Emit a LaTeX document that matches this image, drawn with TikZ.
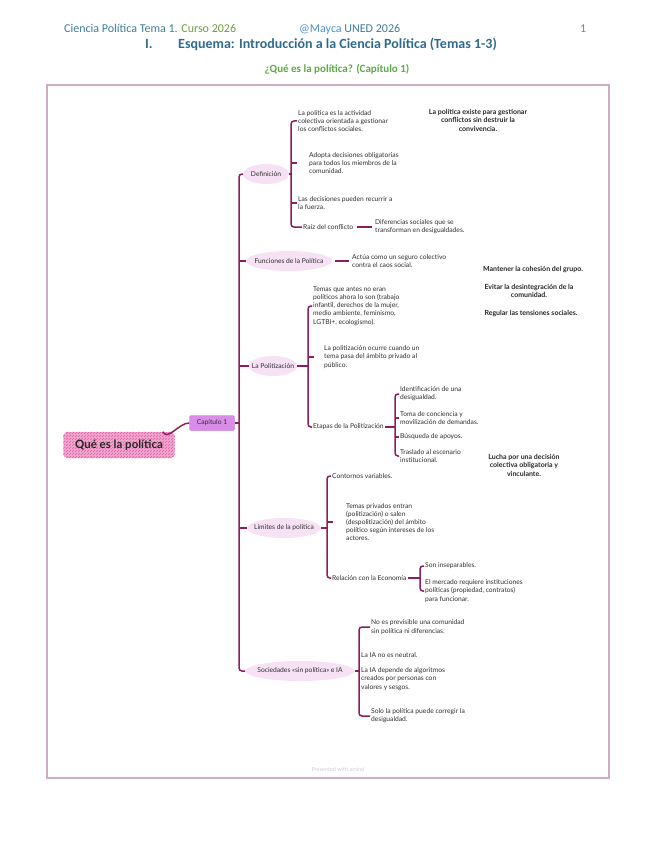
\documentclass[tikz,border=0pt]{standalone}
\usepackage{fontspec}
\setmainfont{Lato}
\newfontfamily\headfont{Carlito}
\usepackage{tikz}
\usetikzlibrary{shapes.geometric,patterns}

\definecolor{linkcol}{HTML}{8A1F5A}
\definecolor{branchfill}{HTML}{F7E1F5}
\definecolor{rootfill}{HTML}{F2A7CF}
\definecolor{rootline}{HTML}{DE5FA2}
\definecolor{capfill}{HTML}{DA8DE8}
\definecolor{capline}{HTML}{B866CC}
\definecolor{framecol}{HTML}{CBB0C4}
\definecolor{headblue}{HTML}{3F7C98}
\definecolor{headgreen}{HTML}{6E9E3E}
\definecolor{mayblue}{HTML}{4A90D0}
\definecolor{titleblue}{HTML}{2F6A8E}
\definecolor{subgreen}{HTML}{5BAA45}
\definecolor{mapgray}{HTML}{2E2E2E}

\newcommand{\mapfont}{\fontsize{6.7}{8.2}\selectfont}

\tikzset{
    txt/.style={anchor=west, align=left, inner sep=1pt, font=\mapfont, text=mapgray},
    note/.style={align=center, inner sep=1pt, font=\fontsize{7}{8.5}\selectfont\bfseries, text=black!85},
    topic/.style={ellipse, fill=branchfill, inner xsep=-4pt, inner ysep=2pt,
        minimum width=46pt, minimum height=20pt, font=\mapfont, text=mapgray},
    br/.style={draw=linkcol, line width=1.5pt, rounded corners=3pt},
    link/.style={br, shorten <=3pt, shorten >=2pt},
}

\begin{document}
\begin{tikzpicture}[x=1pt, y={(0pt,-1pt)}]
        \useasboundingbox (0,0) rectangle (655,848);

        % Header
        \node[anchor=base west, inner sep=0, font=\headfont\fontsize{12}{14}\selectfont] (hleft) at (64,33)
            {\textcolor{headblue}{Ciencia Política Tema 1.} \textcolor{headgreen}{Curso 2026}};
        \node[anchor=base west, inner sep=0, font=\headfont\fontsize{12}{14}\selectfont] (hmid) at (299,33)
            {\textcolor{mayblue}{@Mayca} \textcolor{headblue}{UNED 2026}};
        \node[anchor=base west, inner sep=0, font=\headfont\fontsize{12}{14}\selectfont, text=gray] (hpage) at (580,33) {1};
        \node[anchor=base west, inner sep=0, font=\headfont\fontsize{14}{16}\selectfont\bfseries, text=titleblue] (tnum) at (145,49) {I.};
        \node[anchor=base west, inner sep=0, font=\headfont\fontsize{14}{16}\selectfont\bfseries, text=titleblue] (title) at (178,49)
            {Esquema: Introducción a la Ciencia Política (Temas 1-3)};
        \node[inner sep=0, font=\headfont\fontsize{11}{13}\selectfont\bfseries, text=subgreen] (sub) at (337,69)
            {¿Qué es la política? (Capítulo 1)};

        % Frame
        \draw[framecol, line width=2.5pt] (47,85) rectangle (609,778);
        \node[font=\fontsize{5.5}{6}\selectfont, text=gray!40] (xm) at (338,769) {Presented with xmind};

        % Root and chapter
        \node[draw=rootline, dashed, preaction={fill=rootfill}, pattern=north east lines, pattern color=rootline,
            rounded corners=4pt, minimum width=111pt, minimum height=26pt,
            font=\fontsize{11.5}{13}\selectfont\bfseries, text=black!85] (root) at (119,445) {Qué es la política};
        \node[draw=capline, fill=capfill, rounded corners=2pt, minimum width=45pt, minimum height=15pt,
            inner sep=1pt, font=\mapfont, text=mapgray] (cap) at (212,423) {Capítulo 1};
        \draw[linkcol, line width=1.5pt] ([xshift=-12pt]root.north east) to[out=-60, in=180] (cap.west);

        % Main topics
        \node[topic] (def) at (266,174) {Definición};
        \node[topic] (fun) at (289,261) {Funciones de la Política};
        \node[topic] (pol) at (273,366) {La Politización};
        \node[topic] (lim) at (284,528) {Límites de la política};
        \node[topic] (soc) at (300,671) {Sociedades «sin política» e IA};

        \coordinate (trunk) at (239,423);
        \draw[br] (cap.east) -- (trunk);
        \draw[br] (def.west) -| (trunk) |- (soc.west);
        \draw[br] (trunk|-fun.west) -- (fun.west);
        \draw[br] (trunk|-pol.west) -- (pol.west);
        \draw[br] (trunk|-lim.west) -- (lim.west);

        % Definicion
        \node[txt] (d1) at (297,121) {La política es la actividad\\colectiva orientada a gestionar\\los conflictos sociales.};
        \node[txt] (d2) at (308,163) {Adopta decisiones obligatorias\\para todos los miembros de la\\comunidad.};
        \node[txt] (d3) at (297,203) {Las decisiones pueden recurrir a\\la fuerza.};
        \node[txt] (d4) at (302,227) {Raíz del conflicto};
        \node[txt] (d5) at (374,227) {Diferencias sociales que se\\transforman en desigualdades.};
        \coordinate (bdef) at (291,174);
        \draw[br] (def.east) -- (bdef);
        \draw[br] (d1.west) -| (bdef) |- (d4.west);
        \draw[br, shorten >=11pt] (bdef|-d2.west) -- (d2.west);
        \draw[br] (bdef|-d3.west) -- (d3.west);
        \draw[link] (d4.east) -- (d5.west);

        % Funciones
        \node[txt] (f1) at (351,261) {Actúa como un seguro colectivo\\contra el caos social.};
        \draw[link] (fun.east) -- (f1.west);

        % Politizacion
        \node[txt] (p1) at (312,306) {Temas que antes no eran\\políticos ahora lo son (trabajo\\infantil, derechos de la mujer,\\medio ambiente, feminismo,\\LGTBI+, ecologismo).};
        \node[txt] (p2) at (323,357) {La politización ocurre cuando un\\tema pasa del ámbito privado al\\público.};
        \node[txt] (p3) at (312,427) {Etapas de la Politización};
        \coordinate (bpol) at (308,366);
        \draw[br] (pol.east) -- (bpol);
        \draw[br] (p1.west) -| (bpol) |- (p3.west);
        \draw[br, shorten >=9pt] (bpol|-p2.west) -- (p2.west);

        \node[txt] (e1) at (399,394) {Identificación de una\\desigualdad.};
        \node[txt] (e2) at (399,418) {Toma de conciencia y\\movilización de demandas.};
        \node[txt] (e3) at (399,437) {Búsqueda de apoyos.};
        \node[txt] (e4) at (399,456) {Traslado al escenario\\institucional.};
        \coordinate (beta) at (395,427);
        \draw[br] (p3.east) -- (beta);
        \draw[br] (e1.west) -| (beta) |- (e4.west);
        \draw[br] (beta|-e2.west) -- (e2.west);
        \draw[br] (beta|-e3.west) -- (e3.west);

        % Limites
        \node[txt] (l1) at (331,476) {Contornos variables.};
        \node[txt] (l2) at (345,522) {Temas privados entran\\(politización) o salen\\(despolitización) del ámbito\\político según intereses de los\\actores.};
        \node[txt] (l3) at (331,578) {Relación con la Economía};
        \coordinate (blim) at (327,528);
        \draw[br] (lim.east) -- (blim);
        \draw[br] (l1.west) -| (blim) |- (l3.west);
        \draw[br, shorten >=12pt] (blim|-l2.west) -- (l2.west);

        \node[txt] (r1) at (424,566) {Son inseparables.};
        \node[txt] (r2) at (424,591) {El mercado requiere instituciones\\políticas (propiedad, contratos)\\para funcionar.};
        \coordinate (beco) at (420,578);
        \draw[br] (l3.east) -- (beco);
        \draw[br] (r1.west) -| (beco) |- (r2.west);

        % Sociedades
        \node[txt] (s1) at (370,627) {No es previsible una comunidad\\sin política ni diferencias.};
        \node[txt] (s2) at (360,655) {La IA no es neutral.};
        \node[txt] (s3) at (360,679) {La IA depende de algoritmos\\creados por personas con\\valores y sesgos.};
        \node[txt] (s4) at (370,716) {Solo la política puede corregir la\\desigualdad.};
        \coordinate (bsoc) at (359,671);
        \draw[br] (soc.east) -- (bsoc);
        \draw[br] (s1.west) -| (bsoc) |- (s4.west);
        \draw[br] (bsoc|-s2.west) -- (s2.west);
        \draw[br] (bsoc|-s3.west) -- (s3.west);

        % Free notes
        \node[note] (n1) at (478,120) {La política existe para gestionar\\conflictos sin destruir la\\convivencia.};
        \node[note] (n2) at (533,270) {Mantener la cohesión del grupo.};
        \node[note] (n3) at (529,291) {Evitar la desintegración de la\\comunidad.};
        \node[note] (n4) at (531,314) {Regular las tensiones sociales.};
        \node[note] (n5) at (524,465) {Lucha por una decisión\\colectiva obligatoria y\\vinculante.};
    \end{tikzpicture}
\end{document}
